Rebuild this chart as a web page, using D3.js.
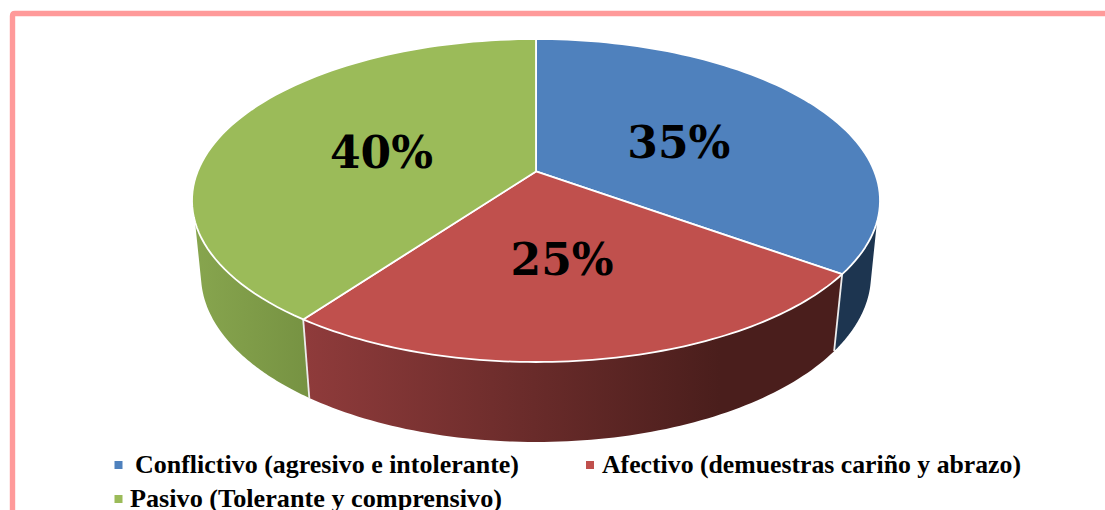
<!DOCTYPE html>
<html><head><meta charset="utf-8">
<script src="https://cdnjs.cloudflare.com/ajax/libs/d3/7.8.5/d3.min.js"></script>
<style>html,body{margin:0;padding:0;background:#fff;overflow:hidden}svg{display:block}</style>
</head><body><svg id="c" width="1105" height="510"></svg>
<script>
const categories = ["Conflictivo (agresivo e intolerante)", "Afectivo (demuestras cariño y abrazo)", "Pasivo (Tolerante y comprensivo)"];
const values = [35, 25, 40];
const topColors = ["#4f81bd", "#c0504d", "#9bbb59"];
const sideStops = [["#1d3550", "#1d3550"], ["#8f3b3b", "#4a1e1c"], ["#87a54e", "#769242"]];
const labelNudge = [[-2, 5], [-3, 3], [2, 5]];

const svg = d3.select("#c");
// frame
svg.append("path").attr("d", "M12.5,513V16Q12.5,13.5 15,13.5H1110").attr("fill", "none").attr("stroke", "#ff9a9a").attr("stroke-width", 5.4);

const topE = {cx: 536, cy: 200.5, rx: 344, ry: 161.5};
const botE = {cx: 536, cy: 275, rx: 335, ry: 167};
const tilt = -0.18;
// perspective map from the true circle to the drawn ellipse
function proj(e, theta, r = 1) {
  const x = r * Math.sin(theta), y = -r * Math.cos(theta);
  const d = 1 + tilt * y;
  return [e.cx + e.rx * x * Math.sqrt(1 - tilt * tilt) / d, e.cy + e.ry * (y + tilt) / d];
}
const arcs = d3.pie().sort(null).startAngle(0).endAngle(2 * Math.PI)(values);
const line = d3.line();
const range = (a, b) => d3.range(0, 81).map(i => a + (b - a) * i / 80);
const deg = Math.PI / 180;

const defs = svg.append("defs");
sideStops.forEach((s, i) => {
  const g = defs.append("linearGradient").attr("id", "side" + i).attr("gradientUnits", "userSpaceOnUse")
    .attr("x1", i === 1 ? 305 : 195).attr("x2", i === 1 ? 720 : 310).attr("y1", 0).attr("y2", 0);
  g.append("stop").attr("offset", 0).attr("stop-color", s[0]);
  g.append("stop").attr("offset", 1).attr("stop-color", s[1]);
});

// visible wall limits: silhouette tangents on the upper and lower ellipse
const wall = [
  {t: [107.8 * deg, arcs[0].endAngle], b: [103.2 * deg, arcs[0].endAngle], i: 0},
  {t: [arcs[1].startAngle, arcs[1].endAngle], b: [arcs[1].startAngle, arcs[1].endAngle], i: 1},
  {t: [arcs[2].startAngle, 252.2 * deg], b: [arcs[2].startAngle, 256.8 * deg], i: 2}
];
wall.forEach(w => {
  const pts = range(w.t[0], w.t[1]).map(a => proj(topE, a))
    .concat(range(w.b[1], w.b[0]).map(a => proj(botE, a)));
  svg.append("path").attr("d", line(pts) + "Z").attr("fill", `url(#side${w.i})`).attr("stroke", "none");
});
// white seams between the walls
[arcs[0].endAngle, arcs[1].endAngle].forEach(a => {
  svg.append("path").attr("d", line([proj(topE, a), proj(botE, a)])).attr("stroke", "#ececec").attr("stroke-width", 1.8).attr("fill", "none");
});
// top faces
arcs.forEach((d, i) => {
  const pts = [proj(topE, 0, 0)].concat(range(d.startAngle, d.endAngle).map(a => proj(topE, a)));
  svg.append("path").attr("d", line(pts) + "Z").attr("fill", topColors[i])
    .attr("stroke", "#ffffff").attr("stroke-width", 1.8).attr("stroke-linejoin", "round");
});
// percentage labels
const total = d3.sum(values);
arcs.forEach((d, i) => {
  const p = proj(topE, (d.startAngle + d.endAngle) / 2, 0.5);
  svg.append("text").attr("x", p[0] + labelNudge[i][0]).attr("y", p[1] + labelNudge[i][1])
    .attr("text-anchor", "middle").attr("dominant-baseline", "central")
    .attr("font-family", "'DejaVu Serif'").attr("font-weight", "bold").attr("font-size", 44)
    .attr("fill", "#000").text(d3.format(".0%")(d.data / total));
});
// legend
const legendPos = [{mx: 114.5, my: 461, tx: 135, by: 473, w: 384}, {mx: 586, my: 461, tx: 602, by: 473, w: 419}, {mx: 114.5, my: 495, tx: 130, by: 507, w: 372}];
categories.forEach((c, i) => {
  const l = legendPos[i];
  svg.append("rect").attr("x", l.mx).attr("y", l.my).attr("width", 8).attr("height", 8).attr("fill", topColors[i]);
  svg.append("text").attr("x", l.tx).attr("y", l.by).attr("textLength", l.w).attr("lengthAdjust", "spacingAndGlyphs")
    .attr("font-family", "'Liberation Serif'").attr("font-weight", "bold").attr("font-size", 26)
    .attr("fill", "#000").text(c);
});
</script></body></html>
